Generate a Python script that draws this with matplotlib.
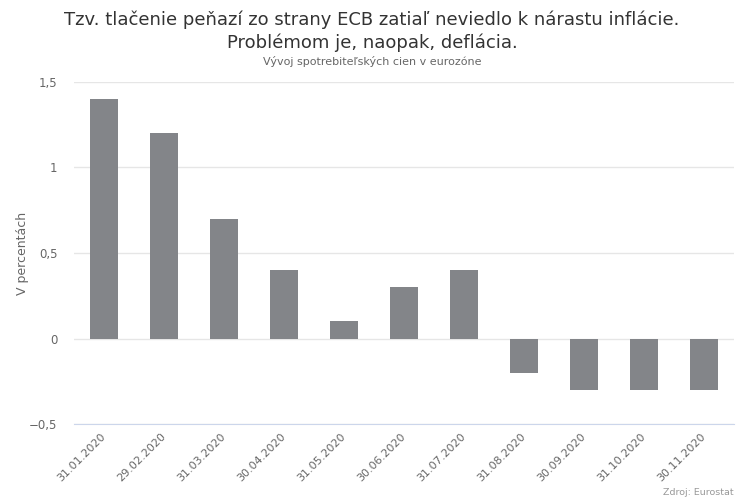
import matplotlib.pyplot as plt
from matplotlib.ticker import FuncFormatter

dates = ['31.01.2020', '29.02.2020', '31.03.2020', '30.04.2020', '31.05.2020', '30.06.2020',
         '31.07.2020', '31.08.2020', '30.09.2020', '31.10.2020', '30.11.2020']
inflation = [1.4, 1.2, 0.7, 0.4, 0.1, 0.3, 0.4, -0.2, -0.3, -0.3, -0.3]
yticks = [-0.5, 0, 0.5, 1, 1.5]

plt.rcParams['font.family'] = ['DejaVu Sans']

fig = plt.figure(figsize=(7.44, 5), dpi=100)
ax = fig.add_axes([74 / 744, 1 - 424 / 500, 660 / 744, 342 / 500])

x = range(len(dates))
ax.bar(x, inflation, width=0.467, color='#838589', zorder=3)

ax.set_xlim(-0.5, len(dates) - 0.5)
ax.set_ylim(-0.5, 1.5)
ax.set_yticks(yticks)
ax.yaxis.set_major_formatter(FuncFormatter(lambda v, p: ('%g' % v).replace('.', ',').replace('-', '\u2212')))
ax.grid(axis='y', color='#e6e6e6', linewidth=1, zorder=0)

for s in ['top', 'right', 'left']:
    ax.spines[s].set_visible(False)
ax.spines['bottom'].set_color('#ccd6eb')
ax.spines['bottom'].set_position(('data', -0.5))

ax.set_xticks(list(x))
ax.set_xticklabels(dates, rotation=45, ha='right', va='center', rotation_mode='anchor',
                   fontsize=8, color='#666666')
ax.tick_params(axis='x', length=0, pad=8)
ax.tick_params(axis='y', length=0, pad=12, labelsize=8.5, labelcolor='#666666')

ax.set_ylabel('V percentách', fontsize=9, color='#666666', va='center')
ax.yaxis.set_label_coords((22 - 74) / 660, 0.5)

fig.text(0.5, 1 - 25 / 500, 'Tzv. tlačenie peňazí zo strany ECB zatiaľ neviedlo k nárastu inflácie.',
         ha='center', va='baseline', fontsize=13, color='#333333')
fig.text(0.5, 1 - 48 / 500, 'Problémom je, naopak, deflácia.',
         ha='center', va='baseline', fontsize=13, color='#333333')
fig.text(0.5, 1 - 65 / 500, 'Vývoj spotrebiteľských cien v eurozóne',
         ha='center', va='baseline', fontsize=8, color='#666666')
fig.text(734 / 744, 1 - 495 / 500, 'Zdroj: Eurostat', ha='right', va='baseline', fontsize=6.8, color='#999999')

fig.savefig('out.png', dpi=100)
